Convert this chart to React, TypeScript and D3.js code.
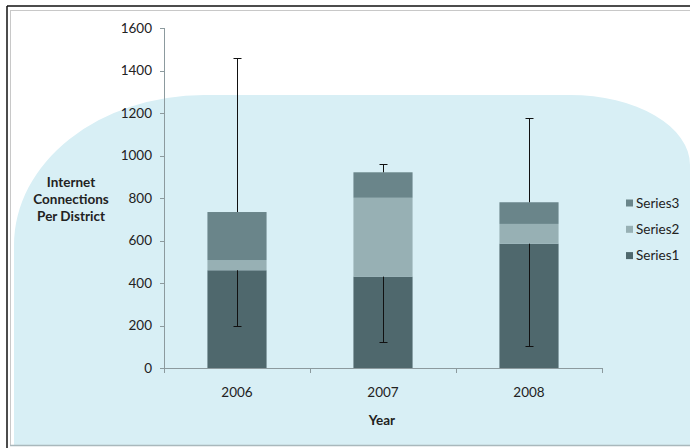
import React from "react";
import * as d3 from "d3";

const years = ["2006", "2007", "2008"];
const series1 = [460, 430, 585];
const series2 = [48, 371, 93];
const series3 = [226, 120, 102];
const series3ErrPlus = [723, 39, 396];
const series1ErrMinus = [264, 309, 483];
const yTicks = [0, 200, 400, 600, 800, 1000, 1200, 1400, 1600];
const seriesNames = ["Series1", "Series2", "Series3"];
const seriesColors = ["#4f686d", "#97b0b4", "#6a858a"];

const W = 690;
const H = 448;
const FONT = "Lato, 'Open Sans', sans-serif";

export default function App() {
  const x = d3.scaleBand<string>().domain(years).range([164, 602]).padding(0);
  const y = d3.scaleLinear().domain([0, 1600]).range([368, 28]);
  const barW = x.bandwidth() * 0.405;

  const rows = years.map((yr, i) => ({
    year: yr,
    Series1: series1[i],
    Series2: series2[i],
    Series3: series3[i],
  }));
  const stacked = d3.stack<any>().keys(seriesNames)(rows);

  const bgPath =
    "M14,448 L14,245 A190,150 0 0 1 204,95 L570,95 A120,70 0 0 1 690,165 L690,445 L14,445 Z";

  const ticksX = [164, ...years.map((yr) => (x(yr) as number) + x.bandwidth())];

  return (
    <svg
      width={W}
      height={H}
      style={{ position: "absolute", left: 0, top: 0, background: "#ffffff" }}
      fontFamily={FONT}
    >
      <rect x={0} y={0} width={W} height={H} fill="#ffffff" />
      <path d={bgPath} fill="#d8eff5" />
      {/* frame */}
      <line x1={7} y1={6} x2={W} y2={6} stroke="#111" strokeWidth={1.5} />
      <line x1={7} y1={6} x2={7} y2={H} stroke="#111" strokeWidth={1.5} />
      <line x1={10} y1={10.5} x2={W} y2={10.5} stroke="#c8c8c8" strokeWidth={1} />
      <line x1={10.5} y1={10} x2={10.5} y2={446} stroke="#c8c8c8" strokeWidth={1} />
      <line x1={10} y1={445.5} x2={W} y2={445.5} stroke="#a9b8bc" strokeWidth={1.5} />

      {/* bars */}
      {stacked.map((layer, si) => (
        <g key={layer.key} fill={seriesColors[si]}>
          {layer.map((d: any, i: number) => {
            const cx = (x(years[i]) as number) + x.bandwidth() / 2;
            return (
              <rect
                key={i}
                x={cx - barW / 2}
                y={y(d[1])}
                width={barW}
                height={y(d[0]) - y(d[1])}
              />
            );
          })}
        </g>
      ))}

      {/* error bars */}
      {years.map((yr, i) => {
        const cx = Math.round((x(yr) as number) + x.bandwidth() / 2) + 0.5;
        const top3 = series1[i] + series2[i] + series3[i];
        const y3a = y(top3);
        const y3b = y(top3 + series3ErrPlus[i]);
        const y1a = y(series1[i]);
        const y1b = y(series1[i] - series1ErrMinus[i]);
        return (
          <g key={yr} stroke="#111" strokeWidth={1}>
            <line x1={cx} x2={cx} y1={y3a} y2={y3b} />
            <line x1={cx - 4} x2={cx + 4} y1={Math.round(y3b) + 0.5} y2={Math.round(y3b) + 0.5} />
            <line x1={cx} x2={cx} y1={y1a} y2={y1b} />
            <line x1={cx - 4} x2={cx + 4} y1={Math.round(y1b) + 0.5} y2={Math.round(y1b) + 0.5} />
          </g>
        );
      })}

      {/* y axis */}
      <line x1={164.5} x2={164.5} y1={y(1600)} y2={y(0)} stroke="#8c9a9e" />
      {yTicks.map((t) => (
        <g key={t}>
          <line x1={160} x2={164.5} y1={Math.round(y(t)) + 0.5} y2={Math.round(y(t)) + 0.5} stroke="#8c9a9e" />
          <text x={152} y={y(t) + 4.8} textAnchor="end" fontSize={13.5} fill="#222">
            {t}
          </text>
        </g>
      ))}

      {/* x axis */}
      <line x1={164} x2={602} y1={368.5} y2={368.5} stroke="#8c9a9e" />
      {ticksX.map((tx, i) => (
        <line key={i} x1={Math.round(tx) + 0.5} x2={Math.round(tx) + 0.5} y1={368} y2={373} stroke="#8c9a9e" />
      ))}
      {years.map((yr) => (
        <text
          key={yr}
          x={(x(yr) as number) + x.bandwidth() / 2}
          y={396.5}
          textAnchor="middle"
          fontSize={13.5}
          fill="#222"
        >
          {yr}
        </text>
      ))}

      {/* axis titles */}
      <text x={382} y={424.5} textAnchor="middle" fontSize={13.5} fontWeight="bold" fill="#222">
        Year
      </text>
      <text textAnchor="middle" fontSize={13.5} fontWeight="bold" fill="#222">
        <tspan x={71} y={186.5}>Internet</tspan>
        <tspan x={71} y={203.5}>Connections</tspan>
        <tspan x={71} y={220.5}>Per District</tspan>
      </text>

      {/* legend */}
      {[2, 1, 0].map((si, k) => {
        const ly = 203 + k * 26.3;
        return (
          <g key={si}>
            <rect x={626} y={ly - 3.5} width={7} height={7} fill={seriesColors[si]} />
            <text x={636} y={ly + 4.8} fontSize={13.5} fill="#222">
              {seriesNames[si]}
            </text>
          </g>
        );
      })}
    </svg>
  );
}
